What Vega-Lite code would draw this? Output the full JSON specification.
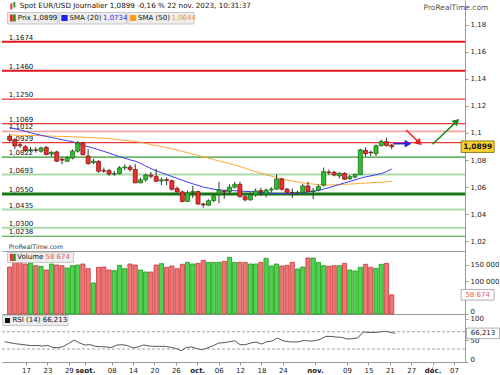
{
  "$schema": "https://vega.github.io/schema/vega-lite/v6.json",
  "padding": 0,
  "background": "white",
  "spacing": 0,
  "bounds": "flush",
  "config": {
    "locale": {"number": {"decimal": ",", "thousands": " ", "grouping": [3], "currency": ["", " €"]}},
    "view": {"stroke": null},
    "font": "DejaVu Sans",
    "text": {"font": "DejaVu Sans"},
    "axis": {"labelFont": "DejaVu Sans", "labelFontSize": 7, "labelColor": "#222", "domainColor": "#9a9a9a", "tickColor": "#9a9a9a", "tickSize": 3, "labelPadding": 2, "grid": false, "title": null, "labelOverlap": false}
  },
  "datasets": {
    "cours": [
      {"n":1,"date":"2023-08-11","open":1.0975,"high":1.0992,"low":1.0935,"close":1.0948,"volume":143800,"sma20":1.1041,"sma50":1.0984,"rsi":46.9},
      {"n":2,"date":"2023-08-14","open":1.0950,"high":1.0962,"low":1.0880,"close":1.0904,"volume":159100,"sma20":1.1032,"sma50":1.0984,"rsi":44.6},
      {"n":3,"date":"2023-08-15","open":1.0913,"high":1.0932,"low":1.0890,"close":1.0907,"volume":159100,"sma20":1.1022,"sma50":1.0983,"rsi":42.3},
      {"n":4,"date":"2023-08-16","open":1.0898,"high":1.0912,"low":1.0860,"close":1.0870,"volume":153000,"sma20":1.1012,"sma50":1.0982,"rsi":40.8},
      {"n":5,"date":"2023-08-17","open":1.0872,"high":1.0898,"low":1.0858,"close":1.0877,"volume":156100,"sma20":1.1002,"sma50":1.0981,"rsi":39.3},
      {"n":6,"date":"2023-08-18","open":1.0876,"high":1.0895,"low":1.0855,"close":1.0872,"volume":147900,"sma20":1.0992,"sma50":1.0981,"rsi":37.7},
      {"n":7,"date":"2023-08-21","open":1.0866,"high":1.0900,"low":1.0855,"close":1.0889,"volume":145900,"sma20":1.0983,"sma50":1.0980,"rsi":38.4},
      {"n":8,"date":"2023-08-22","open":1.0893,"high":1.0905,"low":1.0835,"close":1.0841,"volume":134600,"sma20":1.0975,"sma50":1.0979,"rsi":36.9},
      {"n":9,"date":"2023-08-23","open":1.0845,"high":1.0866,"low":1.0825,"close":1.0857,"volume":153000,"sma20":1.0967,"sma50":1.0977,"rsi":38.4},
      {"n":10,"date":"2023-08-24","open":1.0860,"high":1.0870,"low":1.0785,"close":1.0792,"volume":149900,"sma20":1.0959,"sma50":1.0976,"rsi":33.8},
      {"n":11,"date":"2023-08-25","open":1.0806,"high":1.0825,"low":1.0770,"close":1.0800,"volume":147900,"sma20":1.0951,"sma50":1.0975,"rsi":33.0},
      {"n":12,"date":"2023-08-28","open":1.0792,"high":1.0830,"low":1.0785,"close":1.0820,"volume":140800,"sma20":1.0943,"sma50":1.0974,"rsi":36.1},
      {"n":13,"date":"2023-08-29","open":1.0815,"high":1.0880,"low":1.0805,"close":1.0866,"volume":147900,"sma20":1.0936,"sma50":1.0973,"rsi":43.1},
      {"n":14,"date":"2023-08-30","open":1.0866,"high":1.0940,"low":1.0855,"close":1.0926,"volume":149900,"sma20":1.0923,"sma50":1.0970,"rsi":50.8},
      {"n":15,"date":"2023-08-31","open":1.0926,"high":1.0935,"low":1.0835,"close":1.0840,"volume":153000,"sma20":1.0911,"sma50":1.0969,"rsi":43.9},
      {"n":16,"date":"2023-09-01","open":1.0830,"high":1.0880,"low":1.0766,"close":1.0774,"volume":138700,"sma20":1.0899,"sma50":1.0967,"rsi":39.3},
      {"n":17,"date":"2023-09-04","open":1.0782,"high":1.0810,"low":1.0770,"close":1.0792,"volume":94900,"sma20":1.0888,"sma50":1.0965,"rsi":40.0},
      {"n":18,"date":"2023-09-05","open":1.0790,"high":1.0800,"low":1.0705,"close":1.0718,"volume":142800,"sma20":1.0876,"sma50":1.0963,"rsi":36.1},
      {"n":19,"date":"2023-09-06","open":1.0724,"high":1.0745,"low":1.0705,"close":1.0719,"volume":143800,"sma20":1.0864,"sma50":1.0961,"rsi":35.4},
      {"n":20,"date":"2023-09-07","open":1.0722,"high":1.0735,"low":1.0685,"close":1.0697,"volume":134600,"sma20":1.0852,"sma50":1.0959,"rsi":34.7},
      {"n":21,"date":"2023-09-08","open":1.0696,"high":1.0720,"low":1.0685,"close":1.0700,"volume":132600,"sma20":1.0838,"sma50":1.0954,"rsi":33.8},
      {"n":22,"date":"2023-09-11","open":1.0700,"high":1.0755,"low":1.0695,"close":1.0743,"volume":148900,"sma20":1.0826,"sma50":1.0950,"rsi":39.3},
      {"n":23,"date":"2023-09-12","open":1.0743,"high":1.0768,"low":1.0725,"close":1.0749,"volume":138700,"sma20":1.0814,"sma50":1.0945,"rsi":40.0},
      {"n":24,"date":"2023-09-13","open":1.0748,"high":1.0765,"low":1.0715,"close":1.0730,"volume":153000,"sma20":1.0802,"sma50":1.0942,"rsi":37.7},
      {"n":25,"date":"2023-09-14","open":1.0730,"high":1.0770,"low":1.0630,"close":1.0632,"volume":149900,"sma20":1.0792,"sma50":1.0937,"rsi":32.3},
      {"n":26,"date":"2023-09-15","open":1.0632,"high":1.0670,"low":1.0630,"close":1.0654,"volume":134600,"sma20":1.0776,"sma50":1.0931,"rsi":35.4},
      {"n":27,"date":"2023-09-18","open":1.0655,"high":1.0700,"low":1.0640,"close":1.0690,"volume":128500,"sma20":1.0756,"sma50":1.0923,"rsi":39.3},
      {"n":28,"date":"2023-09-19","open":1.0689,"high":1.0712,"low":1.0665,"close":1.0681,"volume":128500,"sma20":1.0737,"sma50":1.0915,"rsi":36.9},
      {"n":29,"date":"2023-09-20","open":1.0678,"high":1.0735,"low":1.0640,"close":1.0644,"volume":149900,"sma20":1.0721,"sma50":1.0907,"rsi":36.1},
      {"n":30,"date":"2023-09-21","open":1.0646,"high":1.0670,"low":1.0615,"close":1.0654,"volume":154000,"sma20":1.0707,"sma50":1.0900,"rsi":36.1},
      {"n":31,"date":"2023-09-22","open":1.0655,"high":1.0672,"low":1.0615,"close":1.0650,"volume":142800,"sma20":1.0693,"sma50":1.0892,"rsi":36.1},
      {"n":32,"date":"2023-09-25","open":1.0648,"high":1.0655,"low":1.0575,"close":1.0585,"volume":146900,"sma20":1.0679,"sma50":1.0884,"rsi":33.8},
      {"n":33,"date":"2023-09-26","open":1.0590,"high":1.0605,"low":1.0560,"close":1.0565,"volume":138700,"sma20":1.0665,"sma50":1.0875,"rsi":31.5},
      {"n":34,"date":"2023-09-27","open":1.0565,"high":1.0575,"low":1.0488,"close":1.0495,"volume":152000,"sma20":1.0651,"sma50":1.0864,"rsi":26.1},
      {"n":35,"date":"2023-09-28","open":1.0495,"high":1.0575,"low":1.0490,"close":1.0558,"volume":158100,"sma20":1.0637,"sma50":1.0855,"rsi":33.8},
      {"n":36,"date":"2023-09-29","open":1.0561,"high":1.0610,"low":1.0520,"close":1.0568,"volume":153000,"sma20":1.0625,"sma50":1.0844,"rsi":34.7},
      {"n":37,"date":"2023-10-02","open":1.0568,"high":1.0575,"low":1.0470,"close":1.0476,"volume":155000,"sma20":1.0613,"sma50":1.0835,"rsi":30.7},
      {"n":38,"date":"2023-10-03","open":1.0476,"high":1.0485,"low":1.0448,"close":1.0469,"volume":164200,"sma20":1.0601,"sma50":1.0824,"rsi":28.4},
      {"n":39,"date":"2023-10-04","open":1.0467,"high":1.0510,"low":1.0465,"close":1.0500,"volume":158100,"sma20":1.0593,"sma50":1.0814,"rsi":33.0},
      {"n":40,"date":"2023-10-05","open":1.0501,"high":1.0550,"low":1.0490,"close":1.0537,"volume":158100,"sma20":1.0585,"sma50":1.0804,"rsi":37.7},
      {"n":41,"date":"2023-10-06","open":1.0549,"high":1.0640,"low":1.0483,"close":1.0580,"volume":158100,"sma20":1.0579,"sma50":1.0794,"rsi":43.9},
      {"n":42,"date":"2023-10-09","open":1.0570,"high":1.0580,"low":1.0515,"close":1.0565,"volume":161200,"sma20":1.0577,"sma50":1.0784,"rsi":44.6},
      {"n":43,"date":"2023-10-10","open":1.0568,"high":1.0620,"low":1.0555,"close":1.0600,"volume":173400,"sma20":1.0576,"sma50":1.0773,"rsi":46.9},
      {"n":44,"date":"2023-10-11","open":1.0600,"high":1.0640,"low":1.0590,"close":1.0621,"volume":158100,"sma20":1.0574,"sma50":1.0764,"rsi":49.2},
      {"n":45,"date":"2023-10-12","open":1.0621,"high":1.0640,"low":1.0525,"close":1.0530,"volume":158100,"sma20":1.0572,"sma50":1.0752,"rsi":40.0},
      {"n":46,"date":"2023-10-13","open":1.0530,"high":1.0540,"low":1.0495,"close":1.0507,"volume":158100,"sma20":1.0569,"sma50":1.0739,"rsi":40.0},
      {"n":47,"date":"2023-10-16","open":1.0507,"high":1.0560,"low":1.0500,"close":1.0543,"volume":153000,"sma20":1.0568,"sma50":1.0727,"rsi":43.9},
      {"n":48,"date":"2023-10-17","open":1.0543,"high":1.0590,"low":1.0530,"close":1.0572,"volume":153000,"sma20":1.0565,"sma50":1.0715,"rsi":46.1},
      {"n":49,"date":"2023-10-18","open":1.0575,"high":1.0595,"low":1.0535,"close":1.0566,"volume":158100,"sma20":1.0561,"sma50":1.0703,"rsi":41.6},
      {"n":50,"date":"2023-10-19","open":1.0550,"high":1.0590,"low":1.0525,"close":1.0579,"volume":170300,"sma20":1.0558,"sma50":1.0692,"rsi":46.9},
      {"n":51,"date":"2023-10-20","open":1.0580,"high":1.0600,"low":1.0560,"close":1.0586,"volume":146900,"sma20":1.0555,"sma50":1.0681,"rsi":48.4},
      {"n":52,"date":"2023-10-23","open":1.0586,"high":1.0695,"low":1.0580,"close":1.0660,"volume":153000,"sma20":1.0553,"sma50":1.0671,"rsi":55.5},
      {"n":53,"date":"2023-10-24","open":1.0660,"high":1.0670,"low":1.0575,"close":1.0585,"volume":146900,"sma20":1.0551,"sma50":1.0661,"rsi":49.2},
      {"n":54,"date":"2023-10-25","open":1.0585,"high":1.0595,"low":1.0558,"close":1.0562,"volume":148900,"sma20":1.0551,"sma50":1.0653,"rsi":46.9},
      {"n":55,"date":"2023-10-26","open":1.0562,"high":1.0590,"low":1.0520,"close":1.0559,"volume":158100,"sma20":1.0553,"sma50":1.0646,"rsi":46.1},
      {"n":56,"date":"2023-10-27","open":1.0558,"high":1.0575,"low":1.0540,"close":1.0562,"volume":137700,"sma20":1.0554,"sma50":1.0639,"rsi":46.9},
      {"n":57,"date":"2023-10-30","open":1.0562,"high":1.0625,"low":1.0555,"close":1.0609,"volume":143800,"sma20":1.0558,"sma50":1.0632,"rsi":50.0},
      {"n":58,"date":"2023-10-31","open":1.0609,"high":1.0640,"low":1.0560,"close":1.0568,"volume":171400,"sma20":1.0565,"sma50":1.0627,"rsi":48.4},
      {"n":59,"date":"2023-11-01","open":1.0568,"high":1.0595,"low":1.0512,"close":1.0573,"volume":171400,"sma20":1.0569,"sma50":1.0623,"rsi":49.2},
      {"n":60,"date":"2023-11-02","open":1.0579,"high":1.0620,"low":1.0570,"close":1.0605,"volume":158100,"sma20":1.0576,"sma50":1.0619,"rsi":52.3},
      {"n":61,"date":"2023-11-03","open":1.0615,"high":1.0745,"low":1.0605,"close":1.0715,"volume":147900,"sma20":1.0586,"sma50":1.0618,"rsi":59.2},
      {"n":62,"date":"2023-11-06","open":1.0712,"high":1.0730,"low":1.0690,"close":1.0707,"volume":145900,"sma20":1.0596,"sma50":1.0616,"rsi":59.2},
      {"n":63,"date":"2023-11-07","open":1.0710,"high":1.0720,"low":1.0680,"close":1.0690,"volume":147900,"sma20":1.0608,"sma50":1.0617,"rsi":57.7},
      {"n":64,"date":"2023-11-08","open":1.0684,"high":1.0710,"low":1.0665,"close":1.0702,"volume":147900,"sma20":1.0620,"sma50":1.0618,"rsi":56.9},
      {"n":65,"date":"2023-11-09","open":1.0702,"high":1.0710,"low":1.0655,"close":1.0659,"volume":155000,"sma20":1.0632,"sma50":1.0621,"rsi":53.1},
      {"n":66,"date":"2023-11-10","open":1.0662,"high":1.0690,"low":1.0655,"close":1.0677,"volume":134600,"sma20":1.0642,"sma50":1.0623,"rsi":53.9},
      {"n":67,"date":"2023-11-13","open":1.0675,"high":1.0700,"low":1.0665,"close":1.0694,"volume":131600,"sma20":1.0654,"sma50":1.0625,"rsi":55.5},
      {"n":68,"date":"2023-11-14","open":1.0692,"high":1.0885,"low":1.0690,"close":1.0875,"volume":143000,"sma20":1.0666,"sma50":1.0628,"rsi":69.5},
      {"n":69,"date":"2023-11-15","open":1.0871,"high":1.0895,"low":1.0828,"close":1.0847,"volume":152000,"sma20":1.0676,"sma50":1.0630,"rsi":68.3},
      {"n":70,"date":"2023-11-16","open":1.0858,"high":1.0870,"low":1.0830,"close":1.0854,"volume":143000,"sma20":1.0683,"sma50":1.0632,"rsi":68.3},
      {"n":71,"date":"2023-11-17","open":1.0848,"high":1.0915,"low":1.0830,"close":1.0905,"volume":139800,"sma20":1.0692,"sma50":1.0635,"rsi":69.3},
      {"n":72,"date":"2023-11-20","open":1.0907,"high":1.0950,"low":1.0900,"close":1.0936,"volume":152000,"sma20":1.0700,"sma50":1.0636,"rsi":71.0},
      {"n":73,"date":"2023-11-21","open":1.0936,"high":1.0965,"low":1.0900,"close":1.0908,"volume":155000,"sma20":1.0715,"sma50":1.0639,"rsi":69.2},
      {"n":74,"date":"2023-11-22","open":1.0910,"high":1.0920,"low":1.0880,"close":1.0899,"volume":58674,"sma20":1.0734,"sma50":1.0644,"rsi":66.213}
    ],
    "niveaux": [
      {"niveau":1.1674,"type":"résistance majeure"},
      {"niveau":1.1460,"type":"résistance majeure"},
      {"niveau":1.1250,"type":"résistance"},
      {"niveau":1.1069,"type":"résistance"},
      {"niveau":1.1012,"type":"résistance mineure"},
      {"niveau":1.0929,"type":"résistance"},
      {"niveau":1.0822,"type":"support"},
      {"niveau":1.0693,"type":"support mineur"},
      {"niveau":1.0550,"type":"support majeur"},
      {"niveau":1.0435,"type":"support mineur"},
      {"niveau":1.0300,"type":"support mineur"},
      {"niveau":1.0238,"type":"support"}
    ],
    "fleches": [
      {"sens":"neutre","n":74.3,"v":1.0921,"n2":76.9,"v2":1.0921},
      {"sens":"baissier","n":76.76,"v":1.1022,"n2":79.12,"v2":1.0933},
      {"sens":"haussier","n":81.81,"v":1.0917,"n2":86.26,"v2":1.1080}
    ],
    "seuils": [{"rsi":70},{"rsi":30}]
  },
  "vconcat": [
    {
      "width": 463,
      "height": 251,
      "resolve": {"axis": {"x": "independent", "y": "independent"}},
      "layer": [
        {
          "data": {"name": "niveaux"},
          "mark": {"type": "rule"},
          "encoding": {
            "y": {"field": "niveau", "type": "quantitative", "scale": {"domain": [1.0129, 1.19815], "nice": false, "zero": false},
                  "axis": {"orient": "right", "values": [1.02,1.04,1.06,1.08,1.1,1.12,1.14,1.16,1.18], "format": ".2~f", "domain": true, "labelOverlap": false}},
            "color": {"field": "type", "type": "nominal", "legend": null,
                      "scale": {"domain": ["résistance majeure","résistance","résistance mineure","support","support mineur","support majeur"],
                                "range": ["#e3161e","#e43a3a","#f2a3a3","#2f9a2f","#abd9ab","#177517"]}},
            "strokeWidth": {"field": "type", "type": "nominal", "legend": null,
                      "scale": {"type": "ordinal", "domain": ["résistance majeure","résistance","résistance mineure","support","support mineur","support majeur"],
                                "range": [2, 1.2, 1.6, 1.2, 2, 3]}}
          }
        },
        {
          "data": {"name": "niveaux"},
          "mark": {"type": "text", "align": "left", "baseline": "bottom", "dy": -1, "fontSize": 7, "color": "#111"},
          "encoding": {
            "x": {"datum": 0.85, "axis": null},
            "y": {"field": "niveau", "type": "quantitative", "axis": null},
            "text": {"field": "niveau", "type": "quantitative", "format": ".4f"}
          }
        },
        {
          "data": {"name": "cours"},
          "mark": {"type": "line", "color": "#ffa733", "strokeWidth": 1},
          "encoding": {
            "x": {"field": "n", "type": "quantitative", "scale": {"domain": [0.5, 87.05], "nice": false, "zero": false},
                  "axis": {"orient": "bottom", "labels": false, "ticks": false, "domain": true}},
            "y": {"field": "sma50", "type": "quantitative", "axis": null}
          }
        },
        {
          "data": {"name": "cours"},
          "mark": {"type": "line", "color": "#3b3bf5", "strokeWidth": 1},
          "encoding": {
            "x": {"field": "n", "type": "quantitative", "axis": null},
            "y": {"field": "sma20", "type": "quantitative", "axis": null}
          }
        },
        {
          "data": {"name": "cours"},
          "mark": {"type": "rule", "color": "#333", "strokeWidth": 1},
          "encoding": {
            "x": {"field": "n", "type": "quantitative", "axis": null},
            "y": {"field": "low", "type": "quantitative", "axis": null},
            "y2": {"field": "high"}
          }
        },
        {
          "data": {"name": "cours"},
          "mark": {"type": "bar", "size": 4, "strokeWidth": 0.8},
          "encoding": {
            "x": {"field": "n", "type": "quantitative", "axis": null},
            "y": {"field": "open", "type": "quantitative", "axis": null},
            "y2": {"field": "close"},
            "fill": {"condition": {"test": "datum.close >= datum.open", "value": "#2fbf2f"}, "value": "#e8302c"},
            "stroke": {"condition": {"test": "datum.close >= datum.open", "value": "#176e17"}, "value": "#8a1616"}
          }
        },
        {
          "data": {"name": "fleches"},
          "transform": [{"filter": "datum.sens == 'neutre'"}],
          "mark": {"type": "rule", "strokeWidth": 1.5, "color": "#2323e0"},
          "encoding": {
            "x": {"field": "n", "type": "quantitative", "axis": null},
            "y": {"field": "v", "type": "quantitative", "axis": null},
            "x2": {"field": "n2"},
            "y2": {"field": "v2"}
          }
        },
        {
          "data": {"name": "fleches"},
          "transform": [{"filter": "datum.sens == 'baissier'"}],
          "mark": {"type": "rule", "strokeWidth": 1.5, "color": "#f02020"},
          "encoding": {
            "x": {"field": "n", "type": "quantitative", "axis": null},
            "y": {"field": "v", "type": "quantitative", "axis": null},
            "x2": {"field": "n2"},
            "y2": {"field": "v2"}
          }
        },
        {
          "data": {"name": "fleches"},
          "transform": [{"filter": "datum.sens == 'haussier'"}],
          "mark": {"type": "rule", "strokeWidth": 1.5, "color": "#178a17"},
          "encoding": {
            "x": {"field": "n", "type": "quantitative", "axis": null},
            "y": {"field": "v", "type": "quantitative", "axis": null},
            "x2": {"field": "n2"},
            "y2": {"field": "v2"}
          }
        },
        {
          "data": {"name": "fleches"},
          "transform": [{"filter": "datum.sens == 'neutre'"}],
          "mark": {"type": "point", "shape": "triangle", "angle": 90, "size": 60, "filled": true, "opacity": 1, "color": "#2323e0"},
          "encoding": {
            "x": {"field": "n2", "type": "quantitative", "axis": null},
            "y": {"field": "v2", "type": "quantitative", "axis": null}
          }
        },
        {
          "data": {"name": "fleches"},
          "transform": [{"filter": "datum.sens == 'baissier'"}],
          "mark": {"type": "point", "shape": "triangle", "angle": 134, "size": 60, "filled": true, "opacity": 1, "color": "#f02020"},
          "encoding": {
            "x": {"field": "n2", "type": "quantitative", "axis": null},
            "y": {"field": "v2", "type": "quantitative", "axis": null}
          }
        },
        {
          "data": {"name": "fleches"},
          "transform": [{"filter": "datum.sens == 'haussier'"}],
          "mark": {"type": "point", "shape": "triangle", "angle": 47, "size": 60, "filled": true, "opacity": 1, "color": "#178a17"},
          "encoding": {
            "x": {"field": "n2", "type": "quantitative", "axis": null},
            "y": {"field": "v2", "type": "quantitative", "axis": null}
          }
        },
        {
          "data": {"values": [{}]},
          "mark": {"type": "rect", "fill": "#ededed", "stroke": "#bdbdbd", "strokeWidth": 0.8},
          "encoding": {"x": {"datum": 0.6, "axis": null}, "x2": {"datum": 10.22}, "y": {"datum": 1.18893, "axis": null}, "y2": {"datum": 1.18044}}
        },
        {
          "data": {"values": [{}]},
          "mark": {"type": "rect", "fill": "#ededed", "stroke": "#bdbdbd", "strokeWidth": 0.8},
          "encoding": {"x": {"datum": 10.5, "axis": null}, "x2": {"datum": 23.31}, "y": {"datum": 1.18893, "axis": null}, "y2": {"datum": 1.18044}}
        },
        {
          "data": {"values": [{}]},
          "mark": {"type": "rect", "fill": "#ededed", "stroke": "#bdbdbd", "strokeWidth": 0.8},
          "encoding": {"x": {"datum": 23.59, "axis": null}, "x2": {"datum": 36.2}, "y": {"datum": 1.18893, "axis": null}, "y2": {"datum": 1.18044}}
        },
        {
          "data": {"values": [{}]},
          "mark": {"type": "rect", "fill": "#e53030"},
          "encoding": {"x": {"datum": 1.06, "axis": null}, "x2": {"datum": 1.62}, "y": {"datum": 1.18745, "axis": null}, "y2": {"datum": 1.18229}}
        },
        {
          "data": {"values": [{}]},
          "mark": {"type": "rect", "fill": "#2a9a2a"},
          "encoding": {"x": {"datum": 1.62, "axis": null}, "x2": {"datum": 2.18}, "y": {"datum": 1.18745, "axis": null}, "y2": {"datum": 1.18229}}
        },
        {
          "data": {"values": [{}]},
          "mark": {"type": "rect", "fill": "#2020ee"},
          "encoding": {"x": {"datum": 10.875, "axis": null}, "x2": {"datum": 12.09}, "y": {"datum": 1.18708, "axis": null}, "y2": {"datum": 1.18266}}
        },
        {
          "data": {"values": [{}]},
          "mark": {"type": "rect", "fill": "#ff9a1a"},
          "encoding": {"x": {"datum": 23.96, "axis": null}, "x2": {"datum": 25.18}, "y": {"datum": 1.18708, "axis": null}, "y2": {"datum": 1.18266}}
        },
        {
          "data": {"values": [{}]},
          "mark": {"type": "text", "align": "left", "baseline": "middle", "fontSize": 7, "color": "#111", "text": "Prix"},
          "encoding": {"x": {"datum": 2.56, "axis": null}, "y": {"datum": 1.18487, "axis": null}}
        },
        {
          "data": {"name": "cours"},
          "transform": [{"filter": "datum.n == 74"}],
          "mark": {"type": "text", "align": "left", "baseline": "middle", "fontSize": 7, "color": "#111"},
          "encoding": {"x": {"datum": 5.43, "axis": null}, "y": {"datum": 1.18487, "axis": null}, "text": {"field": "close", "type": "quantitative", "format": ".4f"}}
        },
        {
          "data": {"values": [{}]},
          "mark": {"type": "text", "align": "left", "baseline": "middle", "fontSize": 7, "color": "#111", "text": "SMA (20)"},
          "encoding": {"x": {"datum": 12.46, "axis": null}, "y": {"datum": 1.18487, "axis": null}}
        },
        {
          "data": {"name": "cours"},
          "transform": [{"filter": "datum.n == 74"}],
          "mark": {"type": "text", "align": "left", "baseline": "middle", "fontSize": 7, "color": "#2a2af0"},
          "encoding": {"x": {"datum": 18.84, "axis": null}, "y": {"datum": 1.18487, "axis": null}, "text": {"field": "sma20", "type": "quantitative", "format": ".4f"}}
        },
        {
          "data": {"values": [{}]},
          "mark": {"type": "text", "align": "left", "baseline": "middle", "fontSize": 7, "color": "#111", "text": "SMA (50)"},
          "encoding": {"x": {"datum": 25.55, "axis": null}, "y": {"datum": 1.18487, "axis": null}}
        },
        {
          "data": {"name": "cours"},
          "transform": [{"filter": "datum.n == 74"}],
          "mark": {"type": "text", "align": "left", "baseline": "middle", "fontSize": 7, "color": "#f59418"},
          "encoding": {"x": {"datum": 31.92, "axis": null}, "y": {"datum": 1.18487, "axis": null}, "text": {"field": "sma50", "type": "quantitative", "format": ".4f"}}
        },
        {
          "data": {"values": [{}]},
          "mark": {"type": "rect", "fill": "#e53030"},
          "encoding": {"x": {"datum": 1.15, "axis": null}, "x2": {"datum": 1.52}, "y": {"datum": 1.19557, "axis": null}, "y2": {"datum": 1.19114}}
        },
        {
          "data": {"values": [{}]},
          "mark": {"type": "rect", "fill": "#2a9a2a"},
          "encoding": {"x": {"datum": 1.71, "axis": null}, "x2": {"datum": 2.09}, "y": {"datum": 1.19668, "axis": null}, "y2": {"datum": 1.19262}}
        },
        {
          "data": {"values": [{}]},
          "mark": {"type": "text", "align": "left", "baseline": "middle", "fontSize": 7.2, "color": "#111",
                   "text": "Spot EUR/USD Journalier 1,0899 -0,16 % 22 nov. 2023, 10:31:37"},
          "encoding": {"x": {"datum": 2.93, "axis": null}, "y": {"datum": 1.19373, "axis": null}}
        },
        {
          "data": {"values": [{}]},
          "mark": {"type": "text", "align": "right", "baseline": "middle", "fontSize": 7.5, "color": "#555", "text": "ProRealTime.com"},
          "encoding": {"x": {"datum": 92.47, "axis": null}, "y": {"datum": 1.19225, "axis": null}}
        },
        {
          "data": {"values": [{}]},
          "mark": {"type": "text", "align": "left", "baseline": "middle", "fontSize": 6.3, "color": "#333", "text": "ProRealTime.com"},
          "encoding": {"x": {"datum": 0.82, "axis": null}, "y": {"datum": 1.01565, "axis": null}}
        },
        {
          "data": {"name": "cours"},
          "transform": [{"filter": "datum.n == 74"}],
          "mark": {"type": "point", "shape": "M-1,-0.35L1,-0.35L1,0.35L-1,0.35Z", "size": 1089, "filled": true, "opacity": 1,
                   "fill": "#f8d030", "stroke": "#7a6600", "strokeWidth": 0.8},
          "encoding": {"x": {"datum": 90.42, "axis": null}, "y": {"field": "close", "type": "quantitative", "axis": null}}
        },
        {
          "data": {"name": "cours"},
          "transform": [{"filter": "datum.n == 74"}],
          "mark": {"type": "text", "align": "center", "baseline": "middle", "fontSize": 7.5, "fontWeight": "bold", "color": "#111"},
          "encoding": {"x": {"datum": 90.42, "axis": null}, "y": {"field": "close", "type": "quantitative", "axis": null}, "text": {"field": "close", "type": "quantitative", "format": ".4f"}}
        }
      ]
    },
    {
      "width": 463,
      "height": 63,
      "resolve": {"axis": {"x": "independent", "y": "independent"}},
      "layer": [
        {
          "data": {"name": "cours"},
          "mark": {"type": "bar", "size": 4.2, "strokeWidth": 0.8},
          "encoding": {
            "x": {"field": "n", "type": "quantitative", "scale": {"domain": [0.5, 87.05], "nice": false, "zero": false},
                  "axis": {"orient": "bottom", "labels": false, "ticks": false, "domain": true}},
            "y": {"field": "volume", "type": "quantitative", "scale": {"domain": [0, 192780], "nice": false},
                  "axis": {"orient": "right", "values": [0, 100000, 150000], "format": ",.0f", "domain": true, "labelOverlap": false,
                           "labelBaseline": {"condition": {"test": "datum.value == 0", "value": "bottom"}, "value": "middle"}}},
            "fill": {"condition": {"test": "datum.close >= datum.open", "value": "#4fd24f"}, "value": "#f07676"},
            "stroke": {"condition": {"test": "datum.close >= datum.open", "value": "#1c9a1c"}, "value": "#c23a3a"}
          }
        },
        {
          "data": {"values": [{}]},
          "mark": {"type": "rect", "fill": "#ededed", "stroke": "#bdbdbd", "strokeWidth": 0.8},
          "encoding": {"x": {"datum": 0.6, "axis": null}, "x2": {"datum": 13.21}, "y": {"datum": 188800, "axis": null}, "y2": {"datum": 157590}}
        },
        {
          "data": {"values": [{}]},
          "mark": {"type": "rect", "fill": "#e53030"},
          "encoding": {"x": {"datum": 1.06, "axis": null}, "x2": {"datum": 1.62}, "y": {"datum": 184200, "axis": null}, "y2": {"datum": 162200}}
        },
        {
          "data": {"values": [{}]},
          "mark": {"type": "rect", "fill": "#2a9a2a"},
          "encoding": {"x": {"datum": 1.62, "axis": null}, "x2": {"datum": 2.18}, "y": {"datum": 184200, "axis": null}, "y2": {"datum": 162200}}
        },
        {
          "data": {"values": [{}]},
          "mark": {"type": "text", "align": "left", "baseline": "middle", "fontSize": 7, "color": "#111", "text": "Volume"},
          "encoding": {"x": {"datum": 2.46, "axis": null}, "y": {"datum": 173200, "axis": null}}
        },
        {
          "data": {"name": "cours"},
          "transform": [{"filter": "datum.n == 74"}],
          "mark": {"type": "text", "align": "left", "baseline": "middle", "fontSize": 7, "color": "#e35d5d"},
          "encoding": {"x": {"datum": 7.85, "axis": null}, "y": {"datum": 173200, "axis": null}, "text": {"field": "volume", "type": "quantitative", "format": ","}}
        },
        {
          "data": {"name": "cours"},
          "transform": [{"filter": "datum.n == 74"}],
          "mark": {"type": "point", "shape": "M-1,-0.32L1,-0.32L1,0.32L-1,0.32Z", "size": 1089, "filled": true, "opacity": 1,
                   "fill": "#ffffff", "stroke": "#9a9a9a", "strokeWidth": 0.8},
          "encoding": {"x": {"datum": 90.42, "axis": null}, "y": {"field": "volume", "type": "quantitative", "axis": null}}
        },
        {
          "data": {"name": "cours"},
          "transform": [{"filter": "datum.n == 74"}],
          "mark": {"type": "text", "align": "center", "baseline": "middle", "fontSize": 7, "color": "#e35d5d"},
          "encoding": {"x": {"datum": 90.42, "axis": null}, "y": {"field": "volume", "type": "quantitative", "axis": null}, "text": {"field": "volume", "type": "quantitative", "format": ","}}
        }
      ]
    },
    {
      "width": 463,
      "height": 48,
      "resolve": {"axis": {"x": "independent", "y": "independent"}},
      "layer": [
        {
          "data": {"name": "cours"},
          "mark": {"type": "line", "color": "#2a2a2a", "strokeWidth": 0.8},
          "encoding": {
            "x": {"field": "n", "type": "quantitative", "scale": {"domain": [0.5, 87.05], "nice": false, "zero": false},
                  "axis": {"orient": "bottom", "domain": true, "ticks": true, "tickSize": 3, "labelPadding": 1, "labelFlush": false, "labelOverlap": false, "labelBound": false,
                           "values": [5,9,13,16,21,25,29,33,37,41,45,49,53,59,65,69,73,77,81,85],
                           "labelExpr": "['17','23','29','sept.','08','14','20','26','oct.','06','12','18','24','nov.','09','15','21','27','déc.','07'][indexof([5,9,13,16,21,25,29,33,37,41,45,49,53,59,65,69,73,77,81,85], datum.value)]",
                           "labelFontWeight": {"condition": {"test": "indexof([16,37,59,81], datum.value) >= 0", "value": "bold"}, "value": "normal"}}},
            "y": {"field": "rsi", "type": "quantitative", "scale": {"domain": [0, 111], "nice": false, "zero": false},
                  "axis": {"orient": "right", "values": [0, 50, 100], "format": ".0f", "domain": true, "labelOverlap": false,
                           "labelBaseline": {"condition": {"test": "datum.value == 0", "value": "bottom"}, "value": "middle"}}}
          }
        },
        {
          "data": {"name": "seuils"},
          "mark": {"type": "rule", "color": "#8c8c8c", "strokeWidth": 0.8, "strokeDash": [3, 2]},
          "encoding": {
            "y": {"field": "rsi", "type": "quantitative", "axis": null}
          }
        },
        {
          "data": {"values": [{}]},
          "mark": {"type": "rect", "fill": "#ededed", "stroke": "#bdbdbd", "strokeWidth": 0.8},
          "encoding": {"x": {"datum": 0.6, "axis": null}, "x2": {"datum": 12.84}, "y": {"datum": 107.5, "axis": null}, "y2": {"datum": 84.4}}
        },
        {
          "data": {"values": [{}]},
          "mark": {"type": "rect", "fill": "#111111"},
          "encoding": {"x": {"datum": 1.06, "axis": null}, "x2": {"datum": 2.0}, "y": {"datum": 101.7, "axis": null}, "y2": {"datum": 90.2}}
        },
        {
          "data": {"values": [{}]},
          "mark": {"type": "text", "align": "left", "baseline": "middle", "fontSize": 7, "color": "#111", "text": "RSI (14)"},
          "encoding": {"x": {"datum": 2.46, "axis": null}, "y": {"datum": 96.0, "axis": null}}
        },
        {
          "data": {"name": "cours"},
          "transform": [{"filter": "datum.n == 74"}],
          "mark": {"type": "text", "align": "left", "baseline": "middle", "fontSize": 7, "color": "#111"},
          "encoding": {"x": {"datum": 8.11, "axis": null}, "y": {"datum": 96.0, "axis": null}, "text": {"field": "rsi", "type": "quantitative", "format": ".3f"}}
        },
        {
          "data": {"name": "cours"},
          "transform": [{"filter": "datum.n == 74"}],
          "mark": {"type": "point", "shape": "M-1,-0.32L1,-0.32L1,0.32L-1,0.32Z", "size": 1089, "filled": true, "opacity": 1,
                   "fill": "#ffffff", "stroke": "#9a9a9a", "strokeWidth": 0.8},
          "encoding": {"x": {"datum": 90.42, "axis": null}, "y": {"field": "rsi", "type": "quantitative", "axis": null}}
        },
        {
          "data": {"name": "cours"},
          "transform": [{"filter": "datum.n == 74"}],
          "mark": {"type": "text", "align": "center", "baseline": "middle", "fontSize": 7, "color": "#222"},
          "encoding": {"x": {"datum": 90.42, "axis": null}, "y": {"field": "rsi", "type": "quantitative", "axis": null}, "text": {"field": "rsi", "type": "quantitative", "format": ".3f"}}
        }
      ]
    }
  ]
}
